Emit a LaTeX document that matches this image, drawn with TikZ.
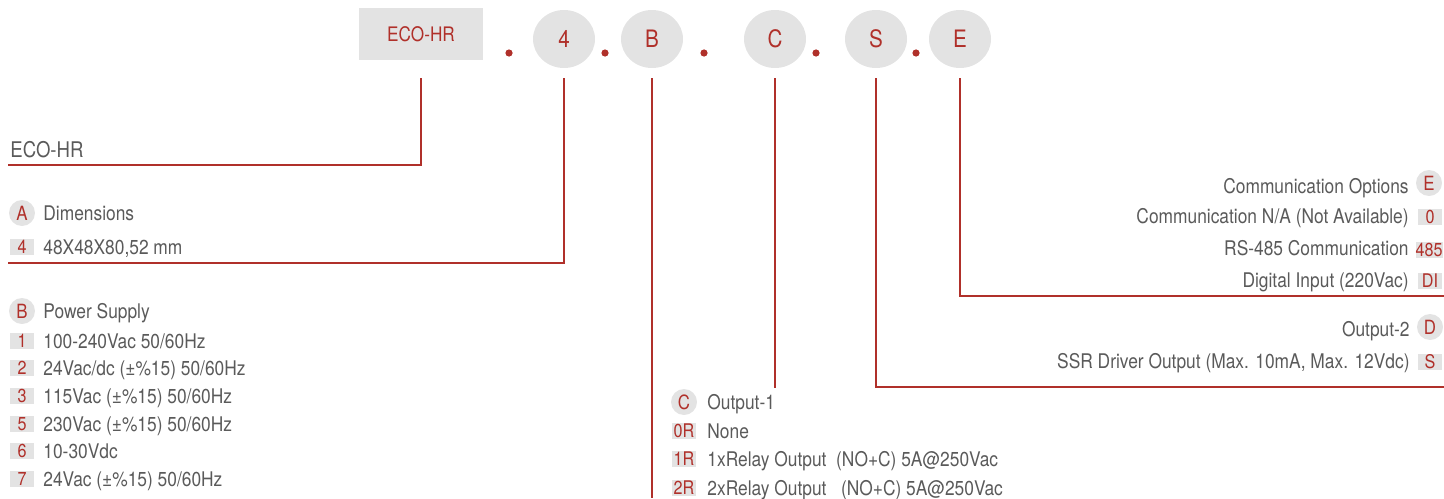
\documentclass[tikz,border=0pt]{standalone}
\usepackage{fontspec}
\setmainfont{TeX Gyre Heros}[FakeStretch=0.86]
\usetikzlibrary{shapes.geometric}
\definecolor{rd}{HTML}{B0302A}
\definecolor{gf}{HTML}{E3E3E3}
\definecolor{tg}{HTML}{5A5A5A}
\tikzset{
  lbl/.style={text=tg, font=\fontsize{10.1}{12}\selectfont, inner sep=0pt, text height=7.3pt, text depth=0pt},
  biglbl/.style={text=tg, font=\fontsize{10.8}{13}\selectfont, inner sep=0pt, text height=7.8pt, text depth=0pt, anchor=west},
  codebox/.style={fill=gf, text=rd, font=\fontsize{10}{12}\selectfont, minimum width=62pt, minimum height=26pt, inner sep=0pt},
  codeell/.style={ellipse, fill=gf, text=rd, font=\fontsize{12}{14}\selectfont, minimum width=31pt, minimum height=29pt, inner sep=0pt},
  tag/.style={circle, fill=gf, text=rd, font=\fontsize{9.8}{11}\selectfont, minimum size=13pt, inner sep=0pt},
  sq/.style={fill=gf, text=rd, font=\fontsize{9.4}{10}\selectfont, minimum width=12pt, minimum height=8.4pt, inner sep=0pt},
  sep/.style={circle, fill=rd, minimum size=3.6pt, inner sep=0pt},
  ln/.style={draw=rd, line width=0.7pt},
}
\begin{document}
\begin{tikzpicture}[x=0.5pt, y=-0.5pt]
\useasboundingbox (0,0) rectangle (1444,498);
% header
\node[codebox] (eco) at (421,34) {ECO-HR};
\node[sep] (d1) at (509,53) {};
\node[codeell] (c4) at (564,39) {4};
\node[sep] (d2) at (605,53) {};
\node[codeell] (cB) at (652,39) {B};
\node[sep] (d3) at (704,53) {};
\node[codeell] (cC) at (775,39) {C};
\node[sep] (d4) at (816,53) {};
\node[codeell] (cS) at (876,39) {S};
\node[sep] (d5) at (916,53) {};
\node[codeell] (cE) at (960,39) {E};
% connector start points
\coordinate (s0) at (421,78);
\coordinate (s4) at (564,78);
\coordinate (sB) at (652,78);
\coordinate (sC) at (775,78);
\coordinate (sS) at (876,78);
\coordinate (sE) at (960,78);
% ECO-HR label
\node[biglbl] (ecolbl) at (10,150) {ECO-HR};
\coordinate (e0) at (8,165);
\draw[ln] (s0) |- (e0);
% A
\node[tag] (tA) at (22,213) {A};
\node[lbl, anchor=west] (tAl) at (43,213) {Dimensions};
\node[sq] (q4) at (22,247) {4};
\node[lbl, anchor=west] (q4l) at (43,247) {48X48X80,52 mm};
\coordinate (e4) at (8,263);
\draw[ln] (s4) |- (e4);
% B
\node[tag] (tB) at (22,311) {B};
\node[lbl, anchor=west] (tBl) at (43,311) {Power Supply};
\node[sq] (b1) at (22,341) {1};
\node[lbl, anchor=west] (b1l) at (43,341) {100-240Vac 50/60Hz};
\node[sq] (b2) at (22,368) {2};
\node[lbl, anchor=west] (b2l) at (43,368) {24Vac/dc (±\%15) 50/60Hz};
\node[sq] (b3) at (22,396) {3};
\node[lbl, anchor=west] (b3l) at (43,396) {115Vac (±\%15) 50/60Hz};
\node[sq] (b5) at (22,424) {5};
\node[lbl, anchor=west] (b5l) at (43,424) {230Vac (±\%15) 50/60Hz};
\node[sq] (b6) at (22,451) {6};
\node[lbl, anchor=west] (b6l) at (43,451) {10-30Vdc};
\node[sq] (b7) at (22,479) {7};
\node[lbl, anchor=west] (b7l) at (43,479) {24Vac (±\%15) 50/60Hz};
\coordinate (eB) at (652,498);
\draw[ln] (sB) -- (eB);
% C
\coordinate (eC) at (775,388);
\draw[ln] (sC) -- (eC);
\node[tag] (tC) at (684,402) {C};
\node[lbl, anchor=west] (tCl) at (707,402) {Output-1};
\node[sq] (c0) at (684,431) {0R};
\node[lbl, anchor=west] (c0l) at (707,431) {None};
\node[sq] (c1) at (684,459) {1R};
\node[lbl, anchor=west] (c1l) at (707,459) {1xRelay Output\ \ (NO+C) 5A@250Vac};
\node[sq] (c2) at (684,488) {2R};
\node[lbl, anchor=west] (c2l) at (707,488) {2xRelay Output\ \ \ (NO+C) 5A@250Vac};
% S / D
\node[tag] (tD) at (1430,327) {D};
\node[lbl, anchor=east] (tDl) at (1410,329) {Output-2};
\node[sq] (sS1) at (1430,362) {S};
\node[lbl, anchor=east] (sS1l) at (1410,361) {SSR Driver Output (Max. 10mA, Max. 12Vdc)};
\coordinate (eS) at (1444,387);
\draw[ln] (sS) |- (eS);
% E
\node[tag] (tE) at (1429,183) {E};
\node[lbl, anchor=east] (tEl) at (1409,186) {Communication Options};
\node[sq] (e0b) at (1430,217) {0};
\node[sq, minimum width=13pt] (e485) at (1429,250) {485};
\node[lbl, anchor=east] (e0l) at (1409,216) {Communication N/A (Not Available)};
\node[lbl, anchor=east] (e485l) at (1409,248) {RS-485 Communication};
\node[sq] (eDI) at (1430,281) {DI};
\node[lbl, anchor=east] (eDIl) at (1409,280) {Digital Input (220Vac)};
\coordinate (eE) at (1444,296);
\draw[ln] (sE) |- (eE);
\end{tikzpicture}
\end{document}
